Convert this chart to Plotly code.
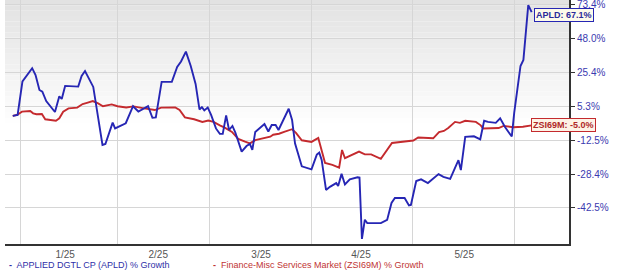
import math
import plotly.graph_objects as go

# ---- data (trading-day index from 12/30/2024, % growth) ----
apld_day = [0, 1.0, 2.0, 4.0, 4.7, 5.5, 6.1, 6.9, 8.7, 9.6, 10.1, 10.8, 13.5, 14.2, 14.9, 16.6,
            18.5, 19.1, 20.6, 21.1, 23.3, 24.8, 25.9, 27.9, 28.8, 29.5, 30.7, 32.8, 33.9, 34.7,
            35.7, 36.7, 37.7, 38.5, 39.0, 39.5, 40.2, 40.9, 41.9, 42.7, 43.3, 44.0, 44.6, 45.3,
            45.9, 47.2, 48.2, 48.9, 49.4, 50.0, 51.9, 52.7, 53.4, 54.2, 54.8, 56.9, 57.6, 58.2,
            59.6, 61.6, 62.7, 63.2, 63.7, 64.6, 65.4, 66.7, 67.1, 67.8, 68.5, 69.5, 71.1, 71.5,
            72.0, 72.6, 73.1, 75.9, 77.2, 78.1, 78.8, 80.8, 81.7, 82.1, 83.2, 84.2, 85.6, 87.8,
            88.8, 90.2, 91.9, 92.4, 93.3, 95.1, 96.4, 97.2, 98.0, 99.6, 100.5, 101.5, 102.9,
            103.4, 104.7, 105.3, 106.3, 107.0]
apld_pct = [0.0, 0.5, 19.7, 27.9, 23.6, 14.6, 13.6, 8.2, 2.1, 10.9, 9.4, 17.0, 16.6, 23.0, 26.1, 16.4,
            -14.9, -14.4, -3.6, -6.6, -3.9, 5.3, 2.4, 5.3, -1.0, -0.8, 19.4, 19.4, 28.7, 32.2,
            38.7, 29.3, 18.2, 3.5, 4.8, 3.0, 4.6, 0.5, -6.6, -9.4, -9.4, 0.3, -7.4, -5.3,
            -8.7, -18.1, -15.4, -14.4, -17.3, -8.4, -4.3, -8.2, -4.8, -4.8, -7.4, 3.9, -2.2, -14.1,
            -24.9, -26.3, -19.5, -18.6, -22.0, -35.2, -33.9, -32.3, -33.5, -28.3, -32.9, -30.7, -29.8, -29.9,
            -54.0, -47.0, -48.3, -48.3, -47.1, -40.5, -38.5, -38.5, -41.5, -41.3, -31.4, -30.7, -32.3, -28.4,
            -29.6, -30.5, -22.1, -26.6, -10.9, -10.6, -12.1, -2.6, -3.2, -3.7, -1.3, -5.9, -10.7,
            1.6, 29.3, 33.2, 72.6, 67.1]

zsi_day = [0, 0.9, 1.9, 3.6, 4.2, 4.9, 6.0, 6.7, 8.9, 9.6, 10.4, 11.5, 13.3, 14.4, 15.3, 16.5,
           17.6, 18.6, 20.4, 21.6, 23.4, 24.9, 27.1, 29.3, 30.6, 33.5, 34.4, 35.5, 37.4, 39.1,
           40.3, 41.4, 42.7, 43.8, 45.2, 46.5, 47.9, 48.9, 50.0, 51.8, 53.1, 53.7, 54.9, 56.1,
           57.6, 58.4, 59.6, 61.6, 63.0, 64.4, 65.9, 67.3, 67.9, 68.5, 69.9, 71.4, 72.6, 73.9,
           75.9, 76.8, 78.2, 82.6, 83.6, 86.7, 87.9, 88.9, 89.8, 91.2, 92.2, 93.3, 95.5, 96.5,
           97.0, 100.2, 101.2, 103.2, 105.2, 107.0]
zsi_pct = [0.0, 0.5, 2.3, 2.7, 1.4, 0.9, 1.0, -1.8, -2.6, -1.3, 2.3, 4.1, 4.5, 6.5, 7.2, 8.2,
           6.9, 5.3, 6.3, 5.3, 4.6, 5.2, 4.1, 3.2, 4.5, 4.6, 3.2, -0.8, -1.8, -3.2,
           -2.5, -3.2, -5.0, -6.3, -8.4, -11.9, -13.3, -14.1, -12.5, -11.3, -10.8, -9.8, -9.3, -8.2,
           -7.0, -8.9, -12.6, -13.4, -11.4, -23.4, -24.3, -25.5, -17.3, -21.2, -19.7, -18.1, -19.4, -19.4,
           -21.5, -18.4, -13.9, -12.7, -11.2, -11.6, -8.5, -7.9, -6.4, -3.2, -3.7, -2.6, -3.2, -5.0,
           -6.6, -6.4, -5.3, -6.0, -5.7, -5.0]

ytick_pct = [73.4, 48.0, 25.4, 5.3, -12.5, -28.4, -42.5]
month_labels = ["1/25", "2/25", "3/25", "4/25", "5/25"]
month_label_day = [10.8, 30.0, 51.2, 71.8, 93.1]
month_start_day = [1.5, 21.5, 40.5, 61.5, 82.5, 103.5]

apld_name = "APPLIED DGTL CP (APLD) % Growth"
zsi_name = "Finance-Misc Services Market (ZSI69M) % Growth"

# the chart's growth scale is logarithmic in (growth + base)
BASE = 157.0
Y_MIN_PCT, Y_MAX_PCT = -55.8, 76.6
X_MIN, X_MAX = -1.6, 114.7

BLUE = "#2626b4"
RED = "#c42a2e"

fig = go.Figure()
fig.add_trace(go.Scatter(x=zsi_day, y=[v + BASE for v in zsi_pct], mode="lines",
                         line=dict(color=RED, width=1.9), name=zsi_name, showlegend=False))
fig.add_trace(go.Scatter(x=apld_day, y=[v + BASE for v in apld_pct], mode="lines",
                         line=dict(color=BLUE, width=1.9), name=apld_name, showlegend=False))

# background gradient (grey at top fading to white)
n = 24
for k in range(n):
    t = k / (n - 1)
    c = int(round(0xe2 + (0xff - 0xe2) * t))
    fig.add_shape(type="rect", xref="paper", yref="paper", x0=0, x1=1,
                  y0=1 - (k + 1) * 0.022, y1=1 - k * 0.022,
                  fillcolor=f"rgb({c},{c},{c})", line=dict(width=0), layer="below")

fig.update_layout(
    width=620, height=272,
    margin=dict(l=5, r=51, t=0, b=28),
    paper_bgcolor="white", plot_bgcolor="white",
    font=dict(family="Liberation Sans, Arial, sans-serif"),
    showlegend=False,
)
fig.update_xaxes(
    range=[X_MIN, X_MAX], showgrid=False, zeroline=False,
    tickmode="array", tickvals=month_label_day, ticktext=month_labels,
    ticks="", tickfont=dict(size=10, color="#555555"), ticklabelstandoff=0,
    showline=True, linecolor="#333333", linewidth=2,
    minor=dict(tickmode="array", tickvals=month_start_day, showgrid=True,
               gridcolor="#d6d6d6", gridwidth=1, ticks=""),
)
fig.update_yaxes(
    type="log", side="right",
    range=[math.log10(Y_MIN_PCT + BASE), math.log10(Y_MAX_PCT + BASE)],
    tickmode="array", tickvals=[v + BASE for v in ytick_pct],
    ticktext=[f"{v:.1f}%" for v in ytick_pct],
    tickfont=dict(size=10, color="#3a3ab0"), ticklabeloverflow="allow",
    showgrid=True, gridcolor="#d6d6d6", gridwidth=1, zeroline=False,
    showline=True, linecolor="#333333", linewidth=2,
    ticks="outside", ticklen=4, tickcolor="#333333",
)

# end labels
fig.add_annotation(x=apld_day[-1], y=math.log10(apld_pct[-1] + BASE),
                   text=f"<b>APLD: {apld_pct[-1]:.1f}%</b>", showarrow=False,
                   xanchor="left", yanchor="middle", xshift=2, yshift=-3,
                   font=dict(size=9, color="#2a2a9a"), bgcolor="#fdfbea",
                   bordercolor=BLUE, borderwidth=1, borderpad=1)
fig.add_annotation(x=zsi_day[-1], y=math.log10(zsi_pct[-1] + BASE),
                   text=f"<b>ZSI69M: {zsi_pct[-1]:.1f}%</b>", showarrow=False,
                   xanchor="left", yanchor="middle", xshift=-1,
                   font=dict(size=9, color="#b02828"), bgcolor="#fdf3e6",
                   bordercolor=RED, borderwidth=1, borderpad=1)

# legend (as text)
fig.add_annotation(xref="paper", yref="paper", x=0.004, y=-0.088, xanchor="left", yanchor="middle",
                   text=f"<b>-</b>  {apld_name}", showarrow=False,
                   font=dict(size=9, color="#2f2fa8"))
fig.add_annotation(xref="paper", yref="paper", x=0.366, y=-0.088, xanchor="left", yanchor="middle",
                   text=f"<b>-</b>  {zsi_name}", showarrow=False,
                   font=dict(size=9, color="#c03434"))

fig.write_html("out.html")
